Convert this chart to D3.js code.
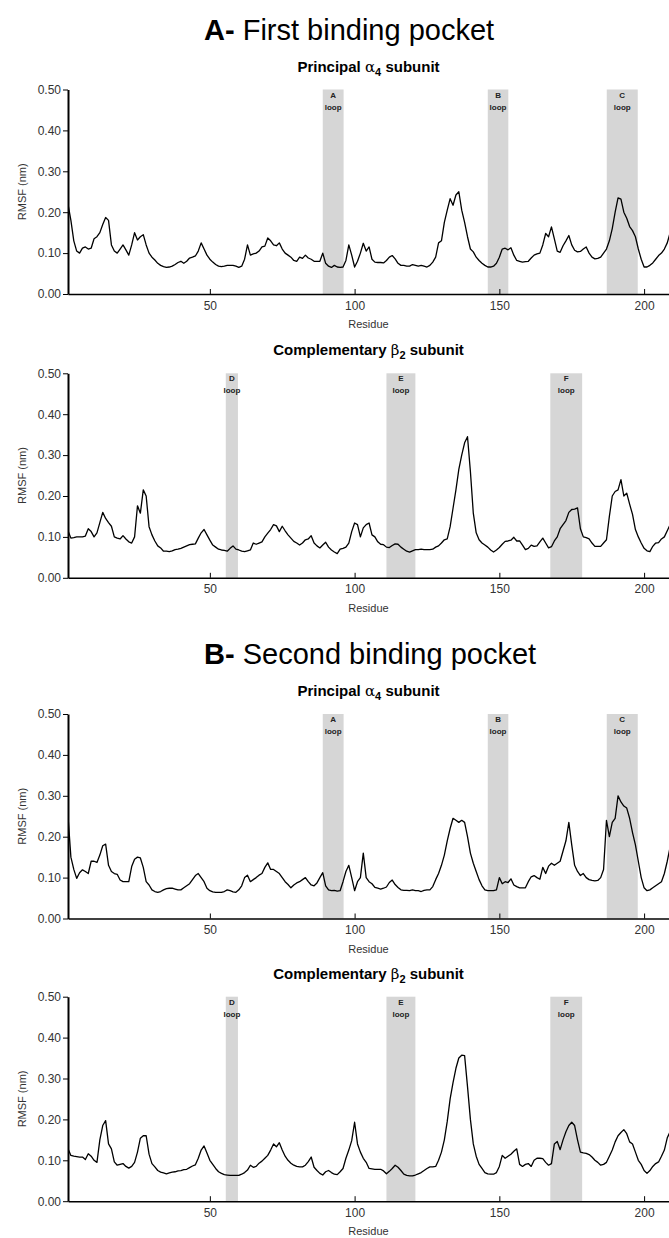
<!DOCTYPE html>
<html><head><meta charset="utf-8">
<script src="https://cdn.jsdelivr.net/npm/d3@7"></script>
<style>
body{margin:0;background:#fff}
svg{display:block}
text{font-family:"Liberation Sans",Arial,Helvetica,sans-serif}
</style>
</head><body>
<svg id="chart" width="669" height="1238"></svg>
<script>
// ---------------- DATA ----------------
const xTickValues = [50, 100, 150, 200];
const yTickValues = [0.0, 0.1, 0.2, 0.3, 0.4, 0.5];

// RMSF (nm) per residue, starting at residue 1
const rmsfFirstAlpha4 = [
0.220,0.180,0.130,0.105,0.100,0.112,0.115,0.110,0.112,0.135,
0.140,0.150,0.170,0.187,0.180,0.120,0.105,0.100,0.110,0.120,
0.108,0.095,0.120,0.150,0.132,0.140,0.145,0.120,0.100,0.090,
0.083,0.075,0.070,0.067,0.065,0.066,0.068,0.072,0.077,0.080,
0.075,0.080,0.088,0.090,0.093,0.105,0.125,0.110,0.095,0.085,
0.078,0.072,0.068,0.067,0.068,0.070,0.070,0.070,0.068,0.065,
0.068,0.085,0.120,0.095,0.098,0.100,0.105,0.115,0.117,0.137,
0.130,0.120,0.118,0.125,0.110,0.100,0.095,0.090,0.082,0.080,
0.090,0.087,0.095,0.088,0.085,0.080,0.080,0.080,0.100,0.075,
0.068,0.065,0.070,0.066,0.065,0.066,0.082,0.120,0.095,0.066,
0.080,0.100,0.124,0.105,0.115,0.085,0.078,0.077,0.077,0.076,
0.082,0.090,0.094,0.086,0.075,0.070,0.070,0.068,0.068,0.072,
0.070,0.068,0.070,0.068,0.066,0.070,0.078,0.090,0.125,0.130,
0.175,0.205,0.233,0.217,0.242,0.250,0.205,0.175,0.140,0.110,
0.103,0.090,0.082,0.075,0.070,0.066,0.066,0.068,0.075,0.090,
0.110,0.112,0.108,0.113,0.095,0.082,0.080,0.078,0.079,0.080,
0.088,0.095,0.098,0.100,0.120,0.148,0.140,0.164,0.135,0.105,
0.102,0.118,0.130,0.143,0.120,0.107,0.103,0.104,0.110,0.115,
0.100,0.090,0.086,0.087,0.090,0.100,0.110,0.130,0.160,0.200,
0.235,0.232,0.200,0.185,0.165,0.155,0.140,0.110,0.085,0.066,
0.066,0.070,0.076,0.085,0.094,0.100,0.110,0.125,0.150];

const rmsfFirstBeta2 = [
0.115,0.097,0.098,0.100,0.100,0.100,0.102,0.120,0.113,0.100,
0.110,0.135,0.160,0.145,0.135,0.126,0.100,0.097,0.095,0.103,
0.095,0.088,0.085,0.100,0.176,0.158,0.215,0.200,0.125,0.105,
0.090,0.078,0.073,0.065,0.065,0.064,0.066,0.069,0.070,0.072,
0.075,0.078,0.081,0.082,0.083,0.097,0.110,0.118,0.105,0.092,
0.080,0.075,0.070,0.068,0.067,0.065,0.072,0.078,0.070,0.068,
0.065,0.064,0.066,0.068,0.085,0.082,0.085,0.088,0.100,0.109,
0.118,0.130,0.127,0.113,0.126,0.115,0.105,0.097,0.089,0.085,
0.080,0.085,0.093,0.095,0.103,0.085,0.078,0.073,0.080,0.087,
0.075,0.068,0.063,0.059,0.070,0.072,0.075,0.085,0.113,0.134,
0.130,0.100,0.122,0.130,0.134,0.105,0.100,0.088,0.082,0.081,
0.075,0.074,0.079,0.083,0.082,0.075,0.070,0.065,0.063,0.066,
0.069,0.069,0.070,0.069,0.069,0.069,0.070,0.075,0.078,0.085,
0.093,0.095,0.125,0.170,0.215,0.265,0.300,0.330,0.345,0.260,
0.158,0.110,0.093,0.085,0.080,0.075,0.068,0.063,0.068,0.074,
0.082,0.089,0.090,0.092,0.099,0.090,0.090,0.080,0.069,0.072,
0.080,0.077,0.078,0.088,0.097,0.085,0.073,0.076,0.090,0.100,
0.120,0.130,0.140,0.160,0.167,0.168,0.171,0.120,0.100,0.098,
0.095,0.085,0.077,0.077,0.077,0.085,0.093,0.150,0.200,0.211,
0.215,0.240,0.200,0.207,0.180,0.155,0.118,0.100,0.085,0.072,
0.066,0.064,0.077,0.085,0.086,0.095,0.100,0.115,0.130];

const rmsfSecondAlpha4 = [
0.250,0.150,0.120,0.098,0.112,0.119,0.115,0.110,0.140,0.140,
0.137,0.155,0.178,0.182,0.130,0.115,0.110,0.108,0.094,0.090,
0.090,0.090,0.127,0.145,0.150,0.148,0.125,0.090,0.082,0.070,
0.066,0.064,0.066,0.070,0.073,0.074,0.074,0.072,0.070,0.070,
0.075,0.080,0.085,0.095,0.105,0.110,0.100,0.090,0.074,0.068,
0.065,0.064,0.064,0.064,0.066,0.070,0.068,0.065,0.064,0.070,
0.080,0.100,0.106,0.090,0.095,0.100,0.106,0.110,0.125,0.136,
0.120,0.120,0.115,0.110,0.100,0.090,0.083,0.075,0.082,0.087,
0.090,0.095,0.100,0.090,0.082,0.080,0.087,0.100,0.112,0.080,
0.070,0.068,0.069,0.067,0.068,0.090,0.115,0.130,0.100,0.068,
0.090,0.100,0.160,0.100,0.090,0.085,0.076,0.074,0.072,0.074,
0.077,0.088,0.094,0.083,0.076,0.070,0.069,0.069,0.068,0.070,
0.068,0.068,0.066,0.069,0.070,0.070,0.078,0.095,0.110,0.130,
0.155,0.190,0.220,0.245,0.240,0.235,0.240,0.235,0.200,0.160,
0.135,0.115,0.095,0.080,0.070,0.068,0.068,0.068,0.070,0.100,
0.085,0.090,0.088,0.097,0.082,0.078,0.075,0.075,0.075,0.090,
0.102,0.105,0.100,0.096,0.125,0.110,0.128,0.135,0.130,0.135,
0.140,0.165,0.190,0.235,0.180,0.130,0.115,0.105,0.110,0.100,
0.095,0.093,0.092,0.093,0.100,0.120,0.240,0.200,0.235,0.245,
0.300,0.285,0.275,0.270,0.245,0.210,0.180,0.140,0.100,0.075,
0.068,0.070,0.075,0.080,0.085,0.090,0.110,0.140,0.175];

const rmsfSecondBeta2 = [
0.128,0.112,0.110,0.109,0.108,0.108,0.102,0.116,0.110,0.100,
0.095,0.150,0.185,0.197,0.140,0.128,0.096,0.088,0.090,0.092,
0.085,0.081,0.085,0.095,0.120,0.154,0.160,0.160,0.115,0.092,
0.084,0.075,0.071,0.069,0.067,0.069,0.071,0.072,0.074,0.075,
0.077,0.078,0.082,0.086,0.089,0.105,0.125,0.135,0.118,0.100,
0.090,0.080,0.072,0.068,0.065,0.064,0.063,0.063,0.063,0.063,
0.066,0.070,0.076,0.088,0.083,0.085,0.093,0.098,0.105,0.112,
0.125,0.140,0.133,0.143,0.125,0.110,0.100,0.093,0.088,0.085,
0.084,0.084,0.088,0.097,0.108,0.083,0.075,0.068,0.064,0.072,
0.075,0.070,0.066,0.065,0.072,0.080,0.105,0.125,0.148,0.193,
0.140,0.120,0.105,0.095,0.080,0.079,0.078,0.078,0.078,0.074,
0.067,0.073,0.080,0.088,0.083,0.075,0.066,0.063,0.062,0.062,
0.064,0.067,0.070,0.075,0.080,0.084,0.084,0.085,0.100,0.120,
0.150,0.195,0.250,0.290,0.325,0.350,0.357,0.356,0.280,0.200,
0.140,0.110,0.090,0.080,0.070,0.067,0.066,0.066,0.070,0.085,
0.112,0.105,0.110,0.115,0.122,0.128,0.090,0.085,0.090,0.092,
0.085,0.100,0.105,0.105,0.104,0.095,0.088,0.092,0.140,0.146,
0.126,0.150,0.170,0.185,0.193,0.185,0.150,0.120,0.118,0.117,
0.114,0.108,0.100,0.095,0.088,0.090,0.095,0.110,0.125,0.145,
0.160,0.168,0.175,0.165,0.145,0.140,0.120,0.100,0.090,0.075,
0.068,0.075,0.085,0.092,0.096,0.110,0.125,0.155,0.170];

// Loop regions (residue ranges)
const alphaLoopNames = ["A", "B", "C"];
const alphaLoopStart = [89.0, 146.0, 187.1];
const alphaLoopEnd   = [96.2, 153.1, 197.8];
const betaLoopNames  = ["D", "E", "F"];
const betaLoopStart  = [55.5, 111.0, 167.6];
const betaLoopEnd    = [59.7, 121.0, 178.6];

const sectionTitles = [["A-", " First binding pocket"], ["B-", " Second binding pocket"]];
const yAxisTitle = "RMSF (nm)";
const xAxisTitle = "Residue";

// ---------------- DRAW ----------------
const svg = d3.select("#chart");
const plotLeft = 68, plotRight = 669, plotH = 204.5;
const x = d3.scaleLinear().domain([1, 208.6]).range([plotLeft, plotRight]);

const makeLoops = (names, s, e) => names.map((n, i) => ({name: n, start: s[i], end: e[i]}));
const alphaLoops = makeLoops(alphaLoopNames, alphaLoopStart, alphaLoopEnd);
const betaLoops = makeLoops(betaLoopNames, betaLoopStart, betaLoopEnd);

const panels = [
  {top: 89.5,  values: rmsfFirstAlpha4,  loops: alphaLoops, greek: "α", sub: "4", pre: "Principal ",     title: sectionTitles[0]},
  {top: 373.3, values: rmsfFirstBeta2,   loops: betaLoops,  greek: "β", sub: "2", pre: "Complementary ", title: null},
  {top: 714,   values: rmsfSecondAlpha4, loops: alphaLoops, greek: "α", sub: "4", pre: "Principal ",     title: sectionTitles[1]},
  {top: 996.7, values: rmsfSecondBeta2,  loops: betaLoops,  greek: "β", sub: "2", pre: "Complementary ", title: null}
];

const defs = svg.append("defs");
defs.append("clipPath").attr("id", "clipAll")
  .append("rect").attr("x", plotLeft).attr("y", 0).attr("width", plotRight - plotLeft).attr("height", 1238);

panels.forEach((p, pi) => {
  const y = d3.scaleLinear().domain([0, 0.5]).range([p.top + plotH, p.top]);
  const g = svg.append("g");

  if (p.title) {
    const t = svg.append("text").attr("x", 204).attr("y", p.top - 50)
      .attr("font-size", 29).attr("fill", "#000");
    t.append("tspan").attr("font-weight", "bold").text(p.title[0]);
    t.append("tspan").text(p.title[1]);
  }
  // subtitle
  const st = svg.append("text").attr("x", (plotLeft + plotRight) / 2).attr("y", p.top - 18)
    .attr("text-anchor", "middle").attr("font-size", 15).attr("font-weight", "bold").attr("fill", "#000");
  st.append("tspan").text(p.pre);
  st.append("tspan").attr("font-weight", "normal").attr("font-family", "DejaVu Serif, serif").attr("font-size", 15).text(p.greek);
  st.append("tspan").attr("font-size", 11).attr("dy", 4).text(p.sub);
  st.append("tspan").attr("dy", -4).text(" subunit");

  // loop shading
  g.selectAll("rect.loop").data(p.loops).join("rect").attr("class", "loop")
    .attr("x", d => x(d.start)).attr("width", d => x(d.end) - x(d.start))
    .attr("y", y(0.5)).attr("height", y(0) - y(0.5))
    .attr("fill", "#d6d6d6");
  g.selectAll("text.ln").data(p.loops).join("text").attr("class", "ln")
    .attr("x", d => (x(d.start) + x(d.end)) / 2).attr("y", y(0.5) + 8)
    .attr("text-anchor", "middle").attr("font-size", 8).attr("font-weight", "bold").attr("fill", "#222")
    .text(d => d.name);
  g.selectAll("text.ll").data(p.loops).join("text").attr("class", "ll")
    .attr("x", d => (x(d.start) + x(d.end)) / 2).attr("y", y(0.5) + 20)
    .attr("text-anchor", "middle").attr("font-size", 8).attr("font-weight", "bold").attr("fill", "#222")
    .text("loop");

  // line
  const line = d3.line().x((d, i) => x(i + 1)).y(d => y(d));
  g.append("path").datum(p.values).attr("d", line)
    .attr("clip-path", "url(#clipAll)")
    .attr("fill", "none").attr("stroke", "#000").attr("stroke-width", 1.3).attr("stroke-linejoin", "round");

  // axes
  const xa = g.append("g").attr("transform", `translate(0,${y(0)})`)
    .call(d3.axisBottom(x).tickValues(xTickValues).tickSize(-5).tickSizeOuter(0).tickPadding(7));
  xa.select(".domain").attr("stroke", "#000").attr("stroke-width", 1.6);
  xa.selectAll(".tick line").attr("stroke", "#000");
  xa.selectAll(".tick text").attr("font-size", 12).attr("fill", "#333")
    .attr("font-family", "Liberation Sans, Arial, sans-serif");

  const ya = g.append("g").attr("transform", `translate(${plotLeft},0)`)
    .call(d3.axisLeft(y).tickValues(yTickValues).tickFormat(d3.format(".2f")).tickSize(5).tickSizeOuter(0).tickPadding(2));
  ya.select(".domain").attr("stroke", "#000").attr("stroke-width", 2);
  ya.selectAll(".tick line").attr("stroke", "#000");
  ya.selectAll(".tick text").attr("font-size", 12).attr("fill", "#333")
    .attr("font-family", "Liberation Sans, Arial, sans-serif");

  g.append("text").attr("transform", `translate(26,${(y(0) + y(0.5)) / 2}) rotate(-90)`)
    .attr("text-anchor", "middle").attr("font-size", 11).attr("fill", "#333").text(yAxisTitle);
  g.append("text").attr("x", (plotLeft + plotRight) / 2).attr("y", y(0) + 34)
    .attr("text-anchor", "middle").attr("font-size", 11).attr("fill", "#333").text(xAxisTitle);
});
</script>
</body></html>
